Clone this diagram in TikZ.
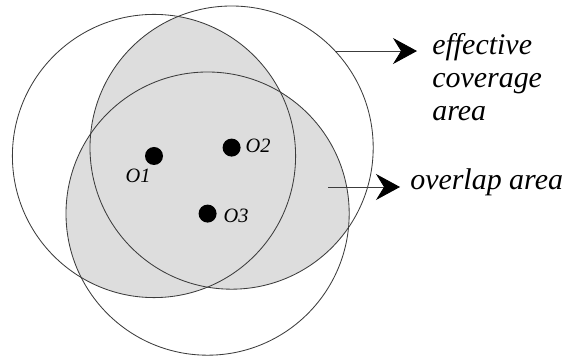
\documentclass[tikz,border=0pt]{standalone}
\usepackage{fontspec}
\setmainfont{Liberation Serif}
\usetikzlibrary{positioning,arrows.meta,calc}
\definecolor{overlapgray}{RGB}{221,221,221}
\definecolor{linegray}{RGB}{60,60,60}

\begin{document}
\begin{tikzpicture}[
        rangecircle/.style={draw=linegray, line width=0.6pt},
        sensor/.style={circle, fill=black, inner sep=0pt, minimum size=0.45cm},
        olabel/.style={font=\fontsize{14.5}{17}\selectfont\itshape, inner sep=0pt},
        callout/.style={font=\fontsize{21.3}{23.5}\selectfont\itshape, inner sep=0pt, align=left},
        pointer/.style={draw=linegray, line width=0.6pt, -{Stealth[length=0.6cm, width=0.65cm, inset=0.2cm, black]}}
    ]
        \useasboundingbox (0,0) rectangle (14.25,8.95);
        \def\rad{3.54}

        % sensor positions
        \coordinate (o1) at (3.85,5.05);
        \coordinate (o2) at (5.79,5.26);
        \coordinate (o3) at (5.19,3.61);

        % overlap area
        \begin{scope}
            \clip (o1) circle (\rad);
            \fill[overlapgray] (o2) circle (\rad) (o3) circle (\rad);
        \end{scope}
        \begin{scope}
            \clip (o2) circle (\rad);
            \fill[overlapgray] (o3) circle (\rad);
        \end{scope}

        % coverage circles
        \draw[rangecircle] (o1) circle (\rad);
        \draw[rangecircle] (o2) circle (\rad);
        \draw[rangecircle] (o3) circle (\rad);

        % sensors
        \node[sensor] (s1) at (o1) {};
        \node[sensor] (s2) at (o2) {};
        \node[sensor] (s3) at (o3) {};
        \node[olabel] (l1) at (3.45,4.55) {O1};
        \node[olabel] (l2) at (6.45,5.3) {O2};
        \node[olabel] (l3) at (5.9,3.55) {O3};

        % callouts
        \node[callout, anchor=base west] (eff) at (10.8,5.925) {effective\\coverage\\area};
        \node[callout, anchor=base west] (ovl) at (10.25,4.2) {overlap area};
        \coordinate (e1) at ($(o2)+(43:\rad)$);
        \coordinate (e2) at (8.2,4.275);

        \draw[pointer, shorten >=0.375cm] (e1) -- (e1 -| eff.west);
        \draw[pointer, shorten >=0.25cm] (e2) -- (e2 -| ovl.west);
    \end{tikzpicture}
\end{document}
